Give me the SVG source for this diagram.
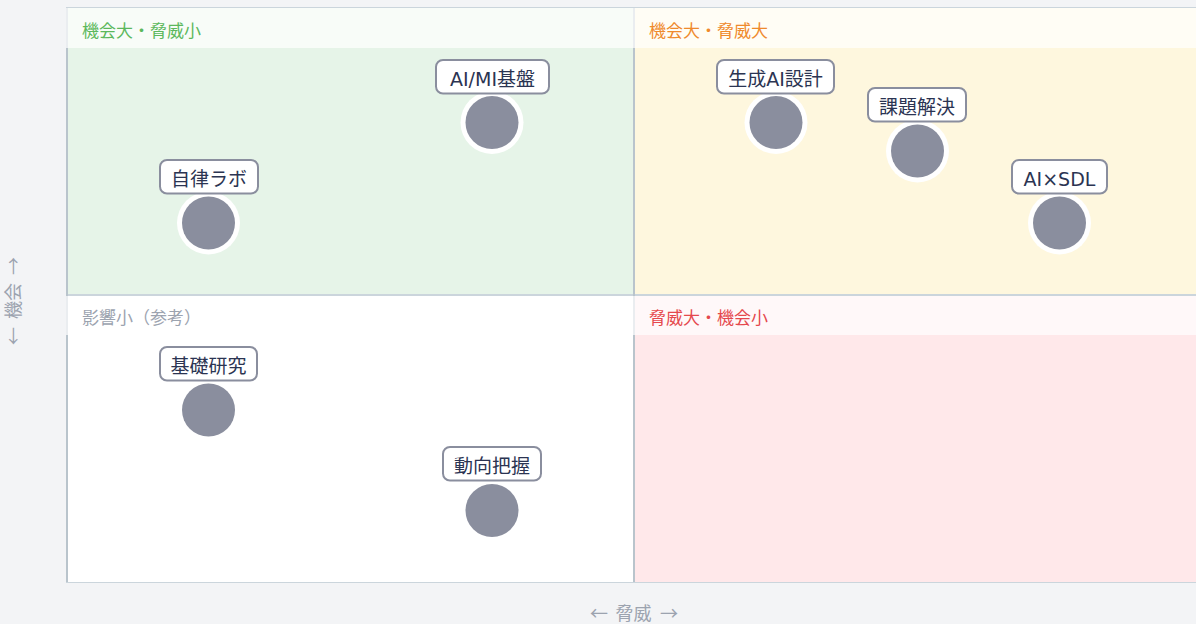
<svg xmlns="http://www.w3.org/2000/svg" width="1196" height="624" viewBox="0 0 1196 624">
<style>
text{font-family:"DejaVu Sans","Noto Sans CJK JP",sans-serif}
.qt{font-size:17px}
.lbl{font-size:19px;fill:#2b3452;text-anchor:middle}
.box{fill:#ffffff;stroke:#8a8e9e;stroke-width:2}
.ring{fill:#ffffff}
.dot{fill:#8a8e9e}
.hdr{fill:#ffffff;fill-opacity:0.7}
.bar{fill:#b9c4cc}
.axis{font-family:"Noto Sans CJK JP",sans-serif;font-size:18px;fill:#9ca3af;text-anchor:middle}
</style>
<rect x="0" y="0" width="1196" height="624" fill="#f3f4f6"/>
<g id="grid">
<rect x="66" y="7" width="1140" height="576" fill="#cbd5dc"/>
<rect x="66" y="8" width="567" height="286" fill="#e6f4e8"/>
<rect x="635" y="8" width="571" height="286" fill="#fef7de"/>
<rect x="66" y="296" width="567" height="286" fill="#ffffff"/>
<rect x="635" y="296" width="571" height="286" fill="#ffe8ea"/>
<rect x="633" y="8" width="2" height="574" class="bar"/>
<rect x="66" y="8" width="2" height="574" class="bar"/>
<rect x="66" y="8" width="567" height="40" class="hdr"/>
<rect x="633" y="8" width="573" height="40" class="hdr"/>
<rect x="66" y="296" width="567" height="39" class="hdr"/>
<rect x="633" y="296" width="573" height="39" class="hdr"/>
<text x="82" y="36.5" class="qt" fill="#5cb85c">機会大・脅威小</text>
<text x="649" y="36.5" class="qt" fill="#ef8a2c">機会大・脅威大</text>
<text x="82" y="324" class="qt" fill="#9ca3af">影響小（参考）</text>
<text x="649" y="324" class="qt" fill="#e5484d">脅威大・機会小</text>
</g>
<g id="axes">
<text y="620" class="axis"><tspan x="599">←</tspan><tspan x="633.5">脅威</tspan><tspan x="669">→</tspan></text>
<text y="0" class="axis" transform="translate(20 301) rotate(-90)"><tspan x="-35">←</tspan><tspan x="0">機会</tspan><tspan x="35">→</tspan></text>
</g>
<g id="connectors"></g>
<g id="node-aimi">
<circle cx="492" cy="122.5" r="31.5" class="ring"/>
<circle cx="492" cy="122.5" r="26.5" class="dot"/>
<rect x="436" y="60" width="113" height="33.5" rx="7" class="box"/>
<text x="492.5" y="86" class="lbl">AI/MI基盤</text>
</g>
<g id="node-jiritsu">
<circle cx="208.5" cy="223" r="31.5" class="ring"/>
<circle cx="208.5" cy="223" r="26.5" class="dot"/>
<rect x="160" y="160" width="98" height="33.5" rx="7" class="box"/>
<text x="209" y="186" class="lbl">自律ラボ</text>
</g>
<g id="node-seisei">
<circle cx="776" cy="122.5" r="31.5" class="ring"/>
<circle cx="776" cy="122.5" r="26.5" class="dot"/>
<rect x="717" y="60" width="117" height="33.5" rx="7" class="box"/>
<text x="775.5" y="86" class="lbl">生成AI設計</text>
</g>
<g id="node-kadai">
<circle cx="917.5" cy="151" r="31.5" class="ring"/>
<circle cx="917.5" cy="151" r="26.5" class="dot"/>
<rect x="868" y="88" width="98" height="33.5" rx="7" class="box"/>
<text x="917" y="114" class="lbl">課題解決</text>
</g>
<g id="node-aisdl">
<circle cx="1059.5" cy="223" r="31.5" class="ring"/>
<circle cx="1059.5" cy="223" r="26.5" class="dot"/>
<rect x="1012" y="160" width="95" height="33.5" rx="7" class="box"/>
<text x="1059.5" y="186" class="lbl">AI×SDL</text>
</g>
<g id="node-kiso">
<circle cx="208.5" cy="410" r="31.5" class="ring"/>
<circle cx="208.5" cy="410" r="26.5" class="dot"/>
<rect x="160" y="347" width="97" height="33.5" rx="7" class="box"/>
<text x="208.5" y="373" class="lbl">基礎研究</text>
</g>
<g id="node-doukou">
<circle cx="492" cy="510.5" r="31.5" class="ring"/>
<circle cx="492" cy="510.5" r="26.5" class="dot"/>
<rect x="443" y="447" width="98" height="33.5" rx="7" class="box"/>
<text x="492" y="473" class="lbl">動向把握</text>
</g>
</svg>
